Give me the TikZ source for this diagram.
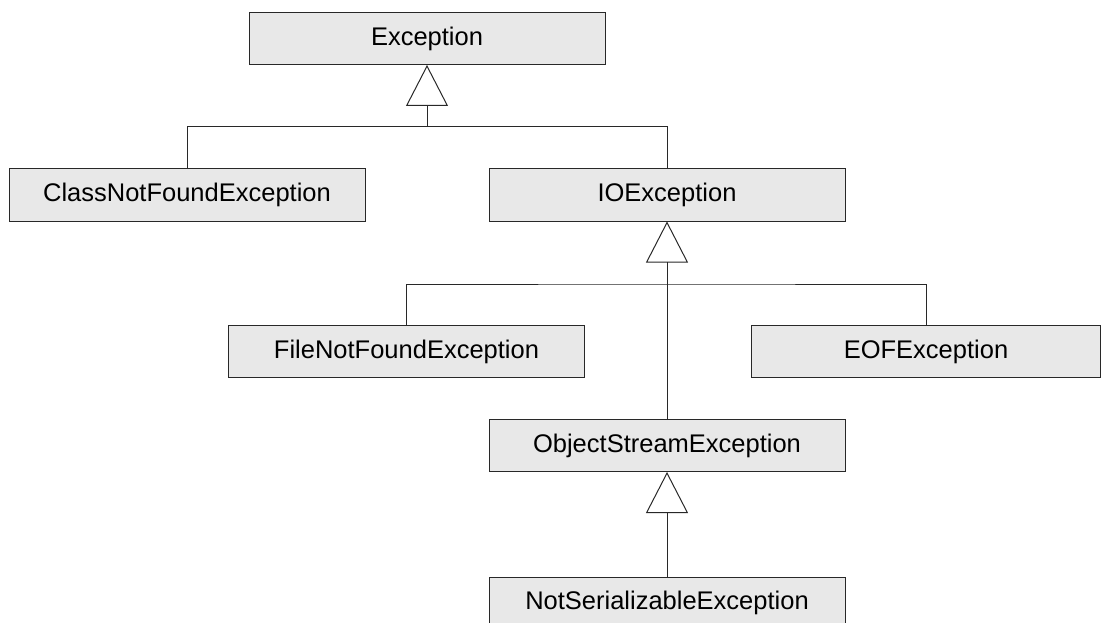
\documentclass[tikz,border=0pt]{standalone}
\usepackage{fontspec}
\setmainfont{Liberation Sans}
\usetikzlibrary{arrows.meta}

\definecolor{boxgray}{RGB}{232,232,232}
\definecolor{linegray}{RGB}{40,40,40}

\begin{document}
\begin{tikzpicture}[
  x=1pt, y=-1pt,
  cls/.style={draw=linegray, fill=boxgray, line width=1pt, minimum width=356pt,
    minimum height=52pt, inner sep=0pt, font=\fontsize{25.5}{30}\selectfont},
  inherit/.style={-{Triangle[open, length=41pt, width=42pt]}, line width=1pt, draw=linegray},
  link/.style={line width=1pt, draw=linegray}
]
\useasboundingbox (0,0) rectangle (1101,623);
\node[cls] (exc) at (427,38.5) {Exception};
\node[cls] (cnf) at (187,195) {ClassNotFoundException};
\node[cls] (ioe) at (667,195) {IOException};
\node[cls] (fnf) at (406.5,351.5) {FileNotFoundException};
\node[cls, minimum width=349pt] (eof) at (926,351.5) {EOFException};
\node[cls] (ose) at (667,445.5) {ObjectStreamException};
\node[cls] (nse) at (667,603) {NotSerializableException};
\coordinate (busA) at (427,127);
\coordinate (busB) at (667,284);
% Exception subclasses
\draw[inherit] (cnf) |- (busA) -- (exc);
\draw[link] (ioe) |- (busA);
% IOException subclasses
\draw[inherit] (ose) -- (ioe);
\draw[link] (fnf) |- (busB) -| (eof);
% ObjectStreamException subclass
\draw[inherit] (nse) -- (ose);
\end{tikzpicture}
\end{document}
